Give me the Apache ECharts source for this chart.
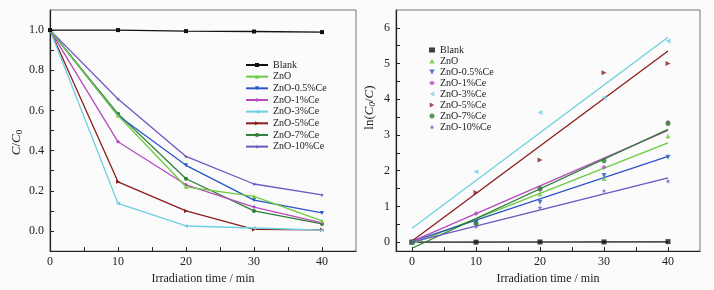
<!DOCTYPE html>
<html>
<head>
<meta charset="utf-8">
<script src="https://cdn.jsdelivr.net/npm/echarts@6/dist/echarts.min.js"></script>
<style>
html,body{margin:0;padding:0;background:#fbfbfb;}
#main{width:714px;height:290px;}
</style>
</head>
<body>
<div id="main"></div>
<script>
// time axis (min)
var TIMES = [0, 10, 20, 30, 40];
var NAMES = ['Blank', 'ZnO', 'ZnO-0.5%Ce', 'ZnO-1%Ce', 'ZnO-3%Ce', 'ZnO-5%Ce', 'ZnO-7%Ce', 'ZnO-10%Ce'];
var COLORS = ['#111111', '#6ccb3c', '#2a56c6', '#b54bbf', '#6dcfe0', '#8c1c1c', '#2f7d34', '#6b58c0'];

// left panel: C/C0
var CC_BLANK = [1.0, 1.0, 0.995, 0.993, 0.990];
var CC_ZNO   = [1.0, 0.575, 0.22, 0.172, 0.05];
var CC_05CE  = [1.0, 0.575, 0.327, 0.154, 0.09];
var CC_1CE   = [1.0, 0.444, 0.23, 0.119, 0.04];
var CC_3CE   = [1.0, 0.137, 0.025, 0.015, 0.004];
var CC_5CE   = [1.0, 0.245, 0.10, 0.008, 0.006];
var CC_7CE   = [1.0, 0.583, 0.26, 0.10, 0.035];
var CC_10CE  = [1.0, 0.657, 0.371, 0.234, 0.18];

// right panel: ln(C0/C) points
var LN_BLANK = [0, 0, 0.005, 0.007, 0.015];
var LN_ZNO   = [0, 0.55, 1.35, 1.78, 2.97];
var LN_05CE  = [0, 0.55, 1.12, 1.87, 2.38];
var LN_1CE   = [0, 0.80, 1.47, 2.10, 3.36];
var LN_3CE   = [0, 1.97, 3.63, 4.05, 5.63];
var LN_5CE   = [0, 1.39, 2.30, 4.74, 5.00];
var LN_7CE   = [0, 0.53, 1.50, 2.28, 3.32];
var LN_10CE  = [0, 0.44, 0.97, 1.44, 1.71];

// fitted lines: value at t=0 and t=40
var FIT_T = [0, 40];
var FIT_START = [0, -0.05, 0.02, 0.02, 0.39, 0.03, -0.17, 0.0];
var FIT_END   = [0.01, 2.78, 2.40, 3.13, 5.74, 5.35, 3.16, 1.80];

// marker shapes: square, up / down / left / right triangles, diamond, circle, star
var SYMBOLS = [
  'rect',
  'path://M5,0 L10,9 L0,9 Z',
  'path://M0,0 L10,0 L5,9 Z',
  'diamond',
  'path://M0,5 L9,0 L9,10 Z',
  'path://M0,0 L9,5 L0,10 Z',
  'circle',
  'path://M50,0 L61,35 L98,35 L68,57 L79,91 L50,70 L21,91 L32,57 L2,35 L39,35 Z'
];

var CC_ALL = [CC_BLANK, CC_ZNO, CC_05CE, CC_1CE, CC_3CE, CC_5CE, CC_7CE, CC_10CE];
var LN_ALL = [LN_BLANK, LN_ZNO, LN_05CE, LN_1CE, LN_3CE, LN_5CE, LN_7CE, LN_10CE];

var FONT = '"Liberation Serif", "DejaVu Serif", serif';

function pairs(xs, ys) {
  var out = [];
  for (var i = 0; i < xs.length; i++) out.push([xs[i], ys[i]]);
  return out;
}

var series = [];
for (var i = 0; i < NAMES.length; i++) {
  series.push({
    name: NAMES[i], type: 'line', xAxisIndex: 0, yAxisIndex: 0,
    data: pairs(TIMES, CC_ALL[i]),
    symbol: SYMBOLS[i], symbolSize: 4,
    lineStyle: { width: 1.3, color: COLORS[i] },
    itemStyle: { color: COLORS[i] },
    z: 10 - i
  });
}
for (var i = 0; i < NAMES.length; i++) {
  series.push({
    name: 'r:' + NAMES[i], type: 'scatter', xAxisIndex: 1, yAxisIndex: 1,
    data: pairs(TIMES, LN_ALL[i]),
    symbol: SYMBOLS[i], symbolSize: 5,
    itemStyle: { color: COLORS[i] },
    z: 5
  });
  series.push({
    name: 'fit:' + NAMES[i], type: 'line', xAxisIndex: 1, yAxisIndex: 1,
    data: pairs(FIT_T, [FIT_START[i], FIT_END[i]]),
    showSymbol: false, symbol: 'none',
    lineStyle: { width: 1.3, color: COLORS[i] },
    z: 4
  });
}

function xAxisCfg(idx, min) {
  return {
    gridIndex: idx, type: 'value', min: min, max: 45,
    name: 'Irradiation time / min', nameLocation: 'middle', nameGap: 15,
    nameTextStyle: { fontFamily: FONT, fontSize: 12, color: '#222' },
    axisLine: { onZero: false, lineStyle: { color: '#222', width: 1.2 } },
    axisTick: { inside: true, length: 4, customValues: [0, 5, 10, 15, 20, 25, 30, 35, 40], lineStyle: { color: '#222' } },
    axisLabel: { customValues: [0, 10, 20, 30, 40], fontFamily: FONT, fontSize: 12, color: '#222', margin: 5 },
    splitLine: { show: false }
  };
}

var option = {
  backgroundColor: '#fbfbfb',
  animation: false,
  grid: [
    { left: 50, top: 10, width: 306, height: 246, show: true, borderColor: '#777', borderWidth: 1 },
    { left: 396, top: 10, width: 304, height: 246, show: true, borderColor: '#777', borderWidth: 1 }
  ],
  legend: [
    {
      data: NAMES, orient: 'vertical', left: 245, top: 60, padding: 0,
      itemWidth: 22, itemHeight: 5, itemGap: 1.66,
      textStyle: { fontFamily: FONT, fontSize: 10, lineHeight: 10, color: '#222' }
    },
    {
      data: NAMES.map(function (n) { return 'r:' + n; }),
      orient: 'vertical', left: 429, top: 45, padding: 0,
      itemWidth: 6, itemHeight: 5, itemGap: 1,
      formatter: function (n) { return n.replace('r:', ''); },
      textStyle: { fontFamily: FONT, fontSize: 10, lineHeight: 10, color: '#222' }
    }
  ],
  xAxis: [xAxisCfg(0, 0), xAxisCfg(1, -2.5)],
  yAxis: [
    {
      gridIndex: 0, type: 'value', min: -0.1, max: 1.1,
      name: '{i|C}/{i|C}{s|0}', nameLocation: 'middle', nameGap: 26,
      nameTextStyle: {
        fontFamily: FONT, fontSize: 13, color: '#222', padding: [0, 24, 0, 0],
        rich: {
          i: { fontFamily: FONT, fontStyle: 'italic', fontSize: 13, color: '#222' },
          s: { fontFamily: FONT, fontSize: 9, color: '#222', padding: [6, 0, 0, 0] }
        }
      },
      axisLine: { onZero: false, lineStyle: { color: '#222', width: 1.2 } },
      axisTick: { inside: true, length: 4, customValues: [0, 0.1, 0.2, 0.3, 0.4, 0.5, 0.6, 0.7, 0.8, 0.9, 1.0], lineStyle: { color: '#222' } },
      axisLabel: {
        customValues: [0, 0.2, 0.4, 0.6, 0.8, 1.0], fontFamily: FONT, fontSize: 12, color: '#222', margin: 6,
        formatter: function (v) { return v.toFixed(1); }
      },
      splitLine: { show: false }
    },
    {
      gridIndex: 1, type: 'value', min: -0.25, max: 6.5,
      name: 'ln({i|C}{s|0}/{i|C})', nameLocation: 'middle', nameGap: 19,
      nameTextStyle: {
        fontFamily: FONT, fontSize: 13, color: '#222', padding: [0, 0, 0, 46],
        rich: {
          i: { fontFamily: FONT, fontStyle: 'italic', fontSize: 13, color: '#222' },
          s: { fontFamily: FONT, fontStyle: 'italic', fontSize: 9, color: '#222', padding: [6, 0, 0, 0] }
        }
      },
      axisLine: { onZero: false, lineStyle: { color: '#222', width: 1.2 } },
      axisTick: { inside: true, length: 4, customValues: [0, 0.5, 1, 1.5, 2, 2.5, 3, 3.5, 4, 4.5, 5, 5.5, 6], lineStyle: { color: '#222' } },
      axisLabel: { customValues: [0, 1, 2, 3, 4, 5, 6], fontFamily: FONT, fontSize: 12, color: '#222', margin: 6 },
      splitLine: { show: false }
    }
  ],
  series: series
};

var chart = echarts.init(document.getElementById('main'));
chart.setOption(option);
</script>
</body>
</html>
